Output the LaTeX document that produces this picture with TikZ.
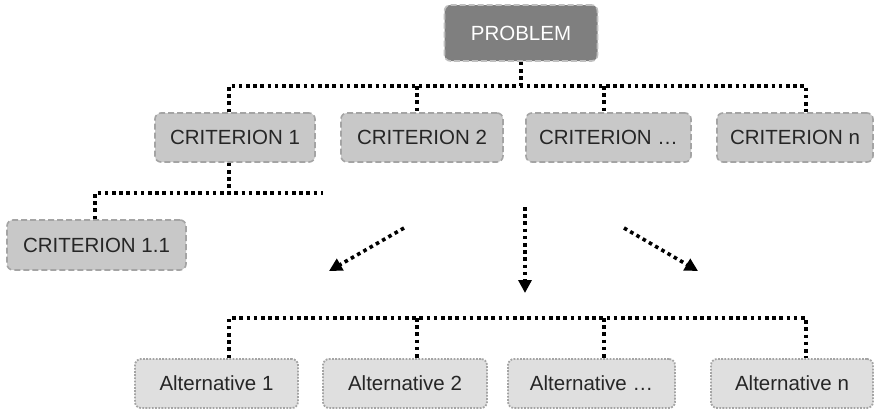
\documentclass[tikz,border=0pt]{standalone}
\usepackage{fontspec}
\setmainfont{Liberation Sans}
\usetikzlibrary{arrows.meta}

\definecolor{probfill}{HTML}{7F7F7F}
\definecolor{critfill}{HTML}{C8C8C8}
\definecolor{altfill}{HTML}{DFDFDF}
\definecolor{boxedge}{HTML}{A4A4A4}

\begin{document}
\begin{tikzpicture}[x=1pt, y=-1pt,
    every node/.style={font=\fontsize{20.5}{24}\selectfont, text=black!85, rounded corners=6pt,
      line width=1.6pt, inner sep=0pt, minimum height=49pt},
    probbox/.style={fill=probfill, draw=boxedge!70, dash pattern=on 6pt off 3pt, text=white, minimum height=56pt},
    critbox/.style={fill=critfill, draw=boxedge, dash pattern=on 6pt off 3pt},
    altbox/.style={fill=altfill, draw=boxedge, line width=1.8pt, dash pattern=on 1.8pt off 1.4pt},
    link/.style={line width=3.6pt, dash pattern=on 3.6pt off 3.6pt},
    flow/.style={link, -{Triangle[width=13pt,length=13pt]}}]
  \useasboundingbox (0,0) rectangle (876,410);

  % goal and criteria
  \node[probbox, minimum width=153pt] (prob) at (521,33) {PROBLEM};
  \node[critbox, minimum width=160pt] (c1) at (235,137.5) {CRITERION 1};
  \node[critbox, minimum width=162pt] (c2) at (422,137.5) {CRITERION 2};
  \node[critbox, minimum width=165pt] (c3) at (608.5,137.5) {CRITERION \dots};
  \node[critbox, minimum width=156pt] (c4) at (795,137.5) {CRITERION n};
  \node[critbox, minimum width=179pt, minimum height=50pt] (c11) at (96.5,245) {CRITERION 1.1};

  % alternatives
  \node[altbox, minimum width=163pt] (a1) at (216.5,383.5) {Alternative 1};
  \node[altbox, minimum width=164pt] (a2) at (405,383.5) {Alternative 2};
  \node[altbox, minimum width=167pt] (a3) at (591.5,383.5) {Alternative \dots};
  \node[altbox, minimum width=162pt] (a4) at (792,383.5) {Alternative n};

  % bus lines
  \coordinate (t1) at (229,86);
  \coordinate (t2) at (417,86);
  \coordinate (t3) at (604,86);
  \coordinate (t4) at (806,86);
  \draw[link] (prob.south) -- (prob.south |- t1);
  \draw[link] (c1.north -| t1) -- (t1) -- (t4) -- (c4.north -| t4);
  \draw[link] (t2) -- (c2.north -| t2);
  \draw[link] (t3) -- (c3.north -| t3);

  \coordinate (s1) at (95,193);
  \coordinate (s2) at (323,193);
  \draw[link] (c1.south -| t1) -- (t1 |- s1);
  \draw[link] (c11.north -| s1) -- (s1) -- (s2);

  \coordinate (b1) at (229,318);
  \coordinate (b2) at (417,318);
  \coordinate (b3) at (604,318);
  \coordinate (b4) at (806,318);
  \draw[link] (a1.north -| b1) -- (b1) -- (b4) -- (a4.north -| b4);
  \draw[link] (b2) -- (a2.north -| b2);
  \draw[link] (b3) -- (a3.north -| b3);

  % arrows towards the alternatives
  \coordinate (f1) at (404,228);
  \coordinate (g1) at (329,271);
  \coordinate (f2) at (525,207);
  \coordinate (g2) at (525,293);
  \coordinate (f3) at (624,228);
  \coordinate (g3) at (698,271);
  \draw[flow] (f1) -- (g1);
  \draw[flow] (f2) -- (g2);
  \draw[flow] (f3) -- (g3);
\end{tikzpicture}
\end{document}
